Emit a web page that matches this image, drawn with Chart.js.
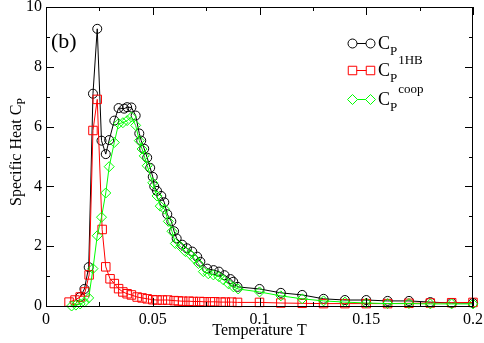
<!DOCTYPE html>
<html>
<head>
<meta charset="utf-8">
<script src="https://cdn.jsdelivr.net/npm/chart.js@4"></script>
<style>
html,body{margin:0;padding:0;background:#fff;}
#wrap{width:484px;height:343px;}
</style>
</head>
<body>
<div id="wrap"><canvas id="c" width="484" height="343"></canvas></div>
<script>
// temperature T and specific heat values
const tTotal=[0.016,0.018,0.020,0.022,0.024,0.026,0.028,0.0296,0.032,0.034,0.0366,0.038,0.040,0.042,0.0437,0.0446,0.046,0.0474,0.0488,0.050,0.0507,0.052,0.054,0.0554,0.0568,0.0587,0.060,0.0612,0.0638,0.066,0.0685,0.0708,0.0723,0.0755,0.0785,0.081,0.0836,0.0864,0.0877,0.0897,0.10,0.11,0.12,0.13,0.14,0.15,0.16,0.17,0.18,0.19,0.20];
const cpTotal=[0.3,0.57,1.3,7.1,9.27,5.53,5.08,5.55,6.2,6.62,6.6,6.65,6.64,6.37,5.77,5.53,5.26,4.96,4.62,4.32,4.0,3.85,3.68,3.47,3.07,2.83,2.5,2.26,2.05,1.93,1.82,1.65,1.48,1.25,1.2,1.15,1.03,0.9,0.81,0.64,0.57,0.44,0.37,0.24,0.2,0.2,0.17,0.17,0.13,0.1,0.1];

const tHB=[0.0108,0.0136,0.016,0.0183,0.0202,0.022,0.024,0.0263,0.028,0.030,0.032,0.034,0.036,0.038,0.040,0.0427,0.045,0.0474,0.050,0.052,0.0545,0.057,0.060,0.062,0.064,0.067,0.069,0.072,0.074,0.077,0.079,0.082,0.084,0.087,0.0897,0.10,0.11,0.12,0.13,0.14,0.15,0.16,0.17,0.18,0.19,0.20];
const cpHB=[0.13,0.2,0.3,0.47,1.04,5.87,6.91,2.56,1.31,0.91,0.75,0.58,0.47,0.41,0.37,0.3,0.27,0.24,0.21,0.2,0.2,0.2,0.18,0.17,0.16,0.16,0.15,0.15,0.14,0.14,0.14,0.13,0.13,0.13,0.12,0.12,0.1,0.09,0.08,0.08,0.08,0.08,0.09,0.1,0.11,0.12];

const tCoop=[0.012,0.014,0.016,0.018,0.020,0.022,0.024,0.026,0.028,0.0296,0.032,0.034,0.036,0.038,0.040,0.042,0.0437,0.045,0.046,0.0474,0.050,0.052,0.0535,0.0555,0.0573,0.059,0.0606,0.063,0.0653,0.0676,0.0695,0.0714,0.0737,0.076,0.0784,0.081,0.083,0.0855,0.0878,0.090,0.10,0.11,0.12,0.13,0.14,0.15,0.16,0.17,0.18,0.19,0.20];
const cpCoop=[0.0,0.03,0.07,0.13,0.27,1.25,2.35,2.97,3.78,4.66,5.47,6.1,6.13,6.2,6.32,6.04,5.53,5.25,5.02,4.69,4.12,3.68,3.34,3.24,2.83,2.5,2.09,1.99,1.82,1.72,1.58,1.42,1.15,1.08,1.04,0.98,0.88,0.74,0.64,0.57,0.47,0.34,0.24,0.17,0.13,0.1,0.08,0.08,0.07,0.07,0.07];

const xTicks=[0,0.05,0.1,0.15,0.2];
const yTicks=[0,2,4,6,8,10];

const FONT="'Liberation Serif','Times New Roman',serif";

function pts(xs,ys){return xs.map((x,i)=>({x:x,y:ys[i]}));}

// frame, inward ticks, titles, legend
const decor={
id:"decor",
afterDraw(chart){
const ctx=chart.ctx,a=chart.chartArea,xs=chart.scales.x,ys=chart.scales.y;
ctx.save();
ctx.strokeStyle="#000";ctx.lineWidth=1;
ctx.strokeRect(a.left+0.5,a.top+0.5,a.right-a.left-1,a.bottom-a.top);
ctx.beginPath();
xTicks.forEach((v,i)=>{
const p=Math.round(xs.getPixelForValue(v))+0.5;
ctx.moveTo(p,a.bottom);ctx.lineTo(p,a.bottom-8);
ctx.moveTo(p,a.top);ctx.lineTo(p,a.top+8);
if(i<xTicks.length-1){
const m=Math.round(xs.getPixelForValue((v+xTicks[i+1])/2))+0.5;
ctx.moveTo(m,a.bottom);ctx.lineTo(m,a.bottom-4);
ctx.moveTo(m,a.top);ctx.lineTo(m,a.top+4);
}
});
yTicks.forEach((v,i)=>{
const p=Math.round(ys.getPixelForValue(v))+0.5;
ctx.moveTo(a.left,p);ctx.lineTo(a.left+8,p);
ctx.moveTo(a.right,p);ctx.lineTo(a.right-8,p);
if(i<yTicks.length-1){
const m=Math.round(ys.getPixelForValue((v+yTicks[i+1])/2))+0.5;
ctx.moveTo(a.left,m);ctx.lineTo(a.left+4,m);
ctx.moveTo(a.right,m);ctx.lineTo(a.right-4,m);
}
});
ctx.stroke();

ctx.fillStyle="#000";
// x title
ctx.font="16px "+FONT;
ctx.textAlign="center";ctx.textBaseline="alphabetic";
ctx.fillText("Temperature T",(a.left+a.right)/2,335);

// y title with subscript
ctx.save();
ctx.translate(16,152);
ctx.rotate(-Math.PI/2);
ctx.font="16px "+FONT;
const main="Specific Heat C";
const wMain=ctx.measureText(main).width;
ctx.font="12px "+FONT;
const wSub=ctx.measureText("P").width;
const start=-(wMain+wSub)/2;
ctx.textAlign="left";
ctx.font="16px "+FONT;
ctx.fillText(main,start,5);
ctx.font="12px "+FONT;
ctx.fillText("P",start+wMain,9);
ctx.restore();

// panel label
ctx.font="22px "+FONT;
ctx.textAlign="left";
ctx.fillText("(b)",51,48);

// legend
const rows=[
{y:43,color:"#000",style:"circle",r:4.5,sup:""},
{y:70,color:"#ff0000",style:"rect",r:6,sup:"1HB"},
{y:99,color:"#00ff00",style:"rectRot",r:5,sup:"coop"}
];
rows.forEach(r=>{
ctx.strokeStyle=r.color;ctx.lineWidth=1;
ctx.beginPath();ctx.moveTo(352,r.y+0.5);ctx.lineTo(370,r.y+0.5);ctx.stroke();
ctx.fillStyle="#fff";
Chart.helpers.drawPoint(ctx,{pointStyle:r.style,radius:r.r,rotation:0,borderWidth:1},352.5,r.y+0.5);
Chart.helpers.drawPoint(ctx,{pointStyle:r.style,radius:r.r,rotation:0,borderWidth:1},370.5,r.y+0.5);
ctx.fillStyle="#000";
ctx.textAlign="left";
ctx.font="18px "+FONT;
ctx.fillText("C",378,r.y+6);
const wc=ctx.measureText("C").width;
ctx.font="13px "+FONT;
ctx.fillText("P",378+wc,r.y+12);
const wp=ctx.measureText("P").width;
if(r.sup) ctx.fillText(r.sup,378+wc+wp+1,r.y-6);
});
ctx.restore();
}
};

new Chart(document.getElementById("c"),{
type:"line",
data:{
datasets:[
{label:"CP",data:pts(tTotal,cpTotal),borderColor:"#000",backgroundColor:"rgba(0,0,0,0)",borderWidth:1,pointStyle:"circle",pointRadius:4.5,pointBorderWidth:1,pointBorderColor:"#000",order:3},
{label:"CP 1HB",data:pts(tHB,cpHB),borderColor:"#ff0000",backgroundColor:"rgba(0,0,0,0)",borderWidth:1,pointStyle:"rect",pointRadius:6,pointBorderWidth:1,pointBorderColor:"#ff0000",order:2},
{label:"CP coop",data:pts(tCoop,cpCoop),borderColor:"#00ff00",backgroundColor:"rgba(0,0,0,0)",borderWidth:1,pointStyle:"rectRot",pointRadius:5,pointBorderWidth:1,pointBorderColor:"#00ff00",order:1}
]
},
options:{
responsive:false,
animation:false,
clip:false,
layout:{padding:{top:7,right:11,left:0,bottom:0}},
plugins:{legend:{display:false},tooltip:{enabled:false}},
scales:{
x:{
type:"linear",min:0,max:0.2,
grid:{display:false,drawTicks:false},
border:{display:false},
afterFit(s){s.height=37;s.paddingLeft=0;s.paddingRight=0;},
afterBuildTicks(s){s.ticks=xTicks.map(v=>({value:v}));},
ticks:{color:"#000",padding:4,maxRotation:0,font:{family:FONT,size:16},callback:v=>String(v)}
},
y:{
type:"linear",min:0,max:10,
grid:{display:false,drawTicks:false},
border:{display:false},
afterFit(s){s.width=46;s.paddingTop=0;s.paddingBottom=0;},
afterBuildTicks(s){s.ticks=yTicks.map(v=>({value:v}));},
ticks:{color:"#000",padding:4,font:{family:FONT,size:16},callback:v=>String(v)}
}
}
},
plugins:[decor]
});
</script>
</body>
</html>
